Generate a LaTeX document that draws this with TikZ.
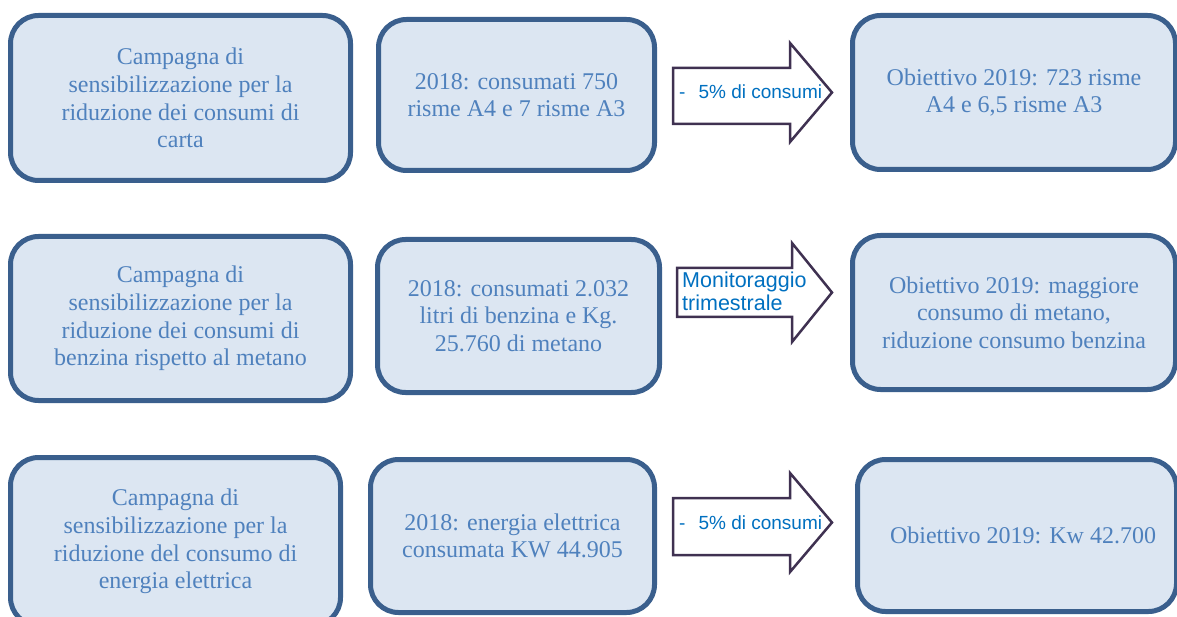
\documentclass[tikz,border=0pt]{standalone}
\usepackage{fontspec}
\setmainfont{Liberation Serif}
\newfontfamily\arialfont{Liberation Sans}
\definecolor{boxfill}{HTML}{DCE6F2}
\definecolor{boxline}{HTML}{3A5F8D}
\definecolor{boxtext}{HTML}{4F81BD}
\definecolor{arrline}{HTML}{3F3151}
\definecolor{arrtext}{HTML}{0070C0}
\begin{document}
\begin{tikzpicture}[x=1pt,y=-1pt,
  box/.style={draw=boxline, line width=5pt, fill=boxfill, rounded corners=28pt,
    text=boxtext, align=center, inner sep=0pt,
    font=\fontsize{24}{27.6}\selectfont},
  blockarrow/.style={draw=arrline, line width=2.5pt, fill=white, line join=miter},
  arrlabel/.style={text=arrtext, anchor=west, align=left, inner sep=0pt,
    font=\arialfont\fontsize{19}{23}\selectfont}]
\useasboundingbox (0,0) rectangle (1177,617);
\clip (0,0) rectangle (1177,617);
% row 1
\node[box, minimum width=340pt, minimum height=165pt] (a1) at (180.5,98)
  {Campagna di\\sensibilizzazione per la\\riduzione dei consumi di\\carta};
\node[box, minimum width=276pt, minimum height=151pt] (b1) at (516.5,95)
  {2018: consumati 750\\risme A4 e 7 risme A3};
\node[box, minimum width=323pt, minimum height=154pt] (c1) at (1014,92.5)
  {Obiettivo 2019: 723 risme\\A4 e 6,5 risme A3};
% row 2
\node[box, minimum width=340pt, minimum height=164pt] (a2) at (180.5,318.5)
  {Campagna di\\sensibilizzazione per la\\riduzione dei consumi di\\benzina rispetto al metano};
\node[box, minimum width=282pt, minimum height=153pt] (b2) at (518.5,316)
  {2018: consumati 2.032\\litri di benzina e Kg.\\25.760 di metano};
\node[box, minimum width=323pt, minimum height=154pt] (c2) at (1014,312.5)
  {Obiettivo 2019: maggiore\\consumo di metano,\\riduzione consumo benzina};
% row 3
\node[box, minimum width=330pt, minimum height=168pt] (a3) at (175.5,541.5)
  {Campagna di\\sensibilizzazione per la\\riduzione del consumo di\\energia elettrica};
\node[box, minimum width=284pt, minimum height=153pt] (b3) at (512.5,536)
  {2018: energia elettrica\\consumata KW 44.905};
\node[box, minimum width=319pt, minimum height=152pt] (c3) at (1017,535.5)
  {\hspace*{12pt}Obiettivo 2019: Kw 42.700};
% block arrows
\draw[blockarrow] (673,68) -- (790,68) -- (790,43) -- (832,92.5) -- (790,142)
  -- (790,124) -- (673,124) -- cycle;
\node[arrlabel] (t1) at (679,92) {-\hspace{13pt}5\% di consumi};
\draw[blockarrow] (677,268) -- (792,268) -- (792,243) -- (832,292.5) -- (792,342)
  -- (792,317) -- (677,317) -- cycle;
\node[arrlabel, font=\arialfont\fontsize{21.5}{23}\selectfont] (t2) at (682,291.5)
  {Monitoraggio\\trimestrale};
\draw[blockarrow] (673,498) -- (790,498) -- (790,473) -- (832,522.5) -- (790,572)
  -- (790,555) -- (673,555) -- cycle;
\node[arrlabel] (t3) at (679,523) {-\hspace{13pt}5\% di consumi};
\end{tikzpicture}
\end{document}
